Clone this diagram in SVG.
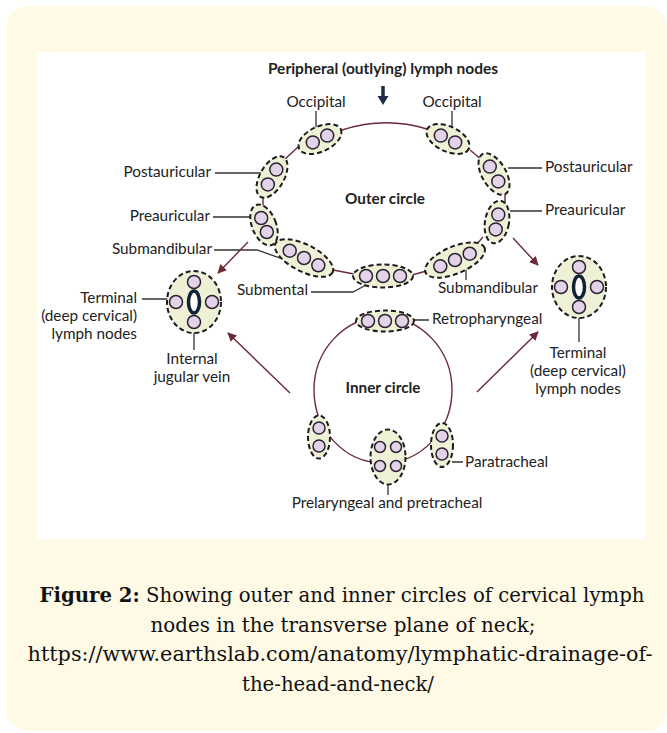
<svg xmlns="http://www.w3.org/2000/svg" width="667" height="733" viewBox="0 0 667 733">
<defs>
<style>
.bg{fill:#fffae6}
.panel{fill:#ffffff}
.oval{fill:#eef1d6;stroke:#1c1c1c;stroke-width:2;stroke-dasharray:5 3}
.nd{fill:#e2d3e8;stroke:#2a2233;stroke-width:1.5}
.vein{fill:#ffffff;stroke:#0f2338;stroke-width:3.5}
.ring{fill:none;stroke:#6b2a36;stroke-width:1.4}
.lead{fill:none;stroke:#333;stroke-width:1.3}
.arr{fill:none;stroke:#6b2a36;stroke-width:1.4;marker-end:url(#ah)}
.lbl{font-family:Lato,"Liberation Sans",sans-serif;font-size:15.3px;fill:#222}
.b{font-weight:bold}
.m{text-anchor:middle}
.e{text-anchor:end}
.cap{font-family:"DejaVu Serif","Liberation Serif",serif;font-size:20px;fill:#111;text-anchor:middle}
</style>
<marker id="ah" viewBox="0 0 10 10" refX="9" refY="5" markerWidth="9" markerHeight="9" markerUnits="userSpaceOnUse" orient="auto"><path d="M0,0 L10,5 L0,10 z" fill="#6b2a36"/></marker>
</defs>
<rect class="bg" x="6" y="6" width="661" height="725" rx="22"/>
<rect class="panel" x="37" y="52" width="609" height="487"/>

<g id="connectors">
<path class="ring" d="M342,130 Q385,116 427,129"/>
<path class="ring" d="M298,147 L284,160 M470,150 L482,160 M263,198 L263,208 M505,192 L505,205 M279,240 L285,247 M483,237 L477,244 M333,270 L354,274 M412,275 L430,270"/>
<ellipse class="ring" cx="383" cy="390" rx="69" ry="73"/>
<path class="lead" d="M316,111 V128 M452,111 V128 M215,173 H263 M213,217 H253 M214,250 H257 L320,272 M311,292 H353 L366,285 M508,168 H542 M510,211 H542 M466,268 V280 M142,299 H168 M194,329 V350 M579,318 V342 M413,320 H429 M452,462 H463 M388,485 V495"/>
<path class="arr" d="M248,242 L218,273"/>
<path class="arr" d="M513,238 L538,265"/>
<path class="arr" d="M290,393 L228,333"/>
<path class="arr" d="M477,392 L538,332"/>
<path d="M383,86 V97" stroke="#1c2e45" stroke-width="3.5" fill="none"/>
<path d="M377.5,96 L388.5,96 L383,105 z" fill="#1c2e45"/>
</g>

<g id="occipital-left"><ellipse class="oval" cx="320" cy="139" rx="23" ry="12.5" transform="rotate(-25 320 139)"/><circle class="nd" cx="312.8" cy="142.4" r="6.5"/><circle class="nd" cx="327.2" cy="135.6" r="6.5"/></g>
<g id="occipital-right"><ellipse class="oval" cx="448" cy="139" rx="23" ry="12.5" transform="rotate(25 448 139)"/><circle class="nd" cx="440.8" cy="135.6" r="6.5"/><circle class="nd" cx="455.2" cy="142.4" r="6.5"/></g>
<g id="postauricular-left"><ellipse class="oval" cx="272" cy="177" rx="12" ry="23" transform="rotate(30 272 177)"/><circle class="nd" cx="276.3" cy="169.6" r="6.5"/><circle class="nd" cx="267.8" cy="184.4" r="6.5"/></g>
<g id="postauricular-right"><ellipse class="oval" cx="494" cy="174" rx="12" ry="23" transform="rotate(-30 494 174)"/><circle class="nd" cx="489.8" cy="166.6" r="6.5"/><circle class="nd" cx="498.3" cy="181.4" r="6.5"/></g>
<g id="preauricular-left"><ellipse class="oval" cx="264" cy="225" rx="12" ry="21.5" transform="rotate(-22 264 225)"/><circle class="nd" cx="261.2" cy="218" r="6.5"/><circle class="nd" cx="266.8" cy="232" r="6.5"/></g>
<g id="preauricular-right"><ellipse class="oval" cx="497" cy="222" rx="12" ry="21.5" transform="rotate(10 497 222)"/><circle class="nd" cx="498.3" cy="214.6" r="6.5"/><circle class="nd" cx="495.7" cy="229.4" r="6.5"/></g>
<g id="submandibular-left"><ellipse class="oval" cx="304" cy="258" rx="32" ry="13.5" transform="rotate(27 304 258)"/><circle class="nd" cx="289.7" cy="250.7" r="6.5"/><circle class="nd" cx="304" cy="258" r="6.5"/><circle class="nd" cx="318.3" cy="265.3" r="6.5"/></g>
<g id="submandibular-right"><ellipse class="oval" cx="455" cy="260" rx="32" ry="13.5" transform="rotate(-23 455 260)"/><circle class="nd" cx="440.3" cy="266.3" r="6.5"/><circle class="nd" cx="455" cy="260" r="6.5"/><circle class="nd" cx="469.7" cy="253.7" r="6.5"/></g>
<g id="submental"><ellipse class="oval" cx="383" cy="276" rx="30" ry="11.5"/><circle class="nd" cx="366" cy="276" r="6.5"/><circle class="nd" cx="383" cy="276" r="6.5"/><circle class="nd" cx="400" cy="276" r="6.5"/></g>
<g id="retropharyngeal"><ellipse class="oval" cx="385" cy="321" rx="29" ry="10.5"/><circle class="nd" cx="368" cy="321" r="6.5"/><circle class="nd" cx="385" cy="321" r="6.5"/><circle class="nd" cx="402" cy="321" r="6.5"/></g>
<g id="terminal-left"><ellipse class="oval" cx="194" cy="302" rx="27" ry="31"/><circle class="nd" cx="194" cy="282" r="6.5"/><circle class="nd" cx="176" cy="302" r="6.5"/><circle class="nd" cx="212" cy="302" r="6.5"/><circle class="nd" cx="194" cy="322" r="6.5"/><ellipse class="vein" cx="194" cy="302" rx="5.5" ry="11"/></g>
<g id="terminal-right"><ellipse class="oval" cx="579" cy="287" rx="27" ry="31"/><circle class="nd" cx="579" cy="267" r="6.5"/><circle class="nd" cx="561" cy="287" r="6.5"/><circle class="nd" cx="597" cy="287" r="6.5"/><circle class="nd" cx="579" cy="307" r="6.5"/><ellipse class="vein" cx="579" cy="287" rx="5.5" ry="11"/></g>
<g id="inner-left"><ellipse class="oval" cx="319" cy="437" rx="11" ry="21.5"/><circle class="nd" cx="319" cy="428" r="6"/><circle class="nd" cx="319" cy="446" r="6"/></g>
<g id="prelaryngeal"><ellipse class="oval" cx="388" cy="457" rx="17.5" ry="27.5"/><circle class="nd" cx="380" cy="447" r="5.5"/><circle class="nd" cx="396" cy="447" r="5.5"/><circle class="nd" cx="380" cy="466" r="5.5"/><circle class="nd" cx="396" cy="466" r="5.5"/></g>
<g id="paratracheal"><ellipse class="oval" cx="442" cy="445" rx="11" ry="22"/><circle class="nd" cx="442" cy="436" r="6"/><circle class="nd" cx="442" cy="454" r="6"/></g>

<g id="labels">
<text class="lbl b m" x="383" y="74" style="font-size:15.5px">Peripheral (outlying) lymph nodes</text>
<text class="lbl m" x="316" y="107">Occipital</text>
<text class="lbl m" x="452" y="107">Occipital</text>
<text class="lbl e" x="211" y="177">Postauricular</text>
<text class="lbl e" x="210" y="221">Preauricular</text>
<text class="lbl e" x="212" y="254">Submandibular</text>
<text class="lbl b m" x="385" y="204">Outer circle</text>
<text class="lbl" x="545" y="172">Postauricular</text>
<text class="lbl" x="545" y="215">Preauricular</text>
<text class="lbl e" x="308" y="295">Submental</text>
<text class="lbl m" x="488" y="293">Submandibular</text>
<text class="lbl e" x="137" y="303">Terminal</text>
<text class="lbl e" x="137" y="321">(deep cervical)</text>
<text class="lbl e" x="137" y="339">lymph nodes</text>
<text class="lbl m" x="192" y="364">Internal</text>
<text class="lbl m" x="192" y="382">jugular vein</text>
<text class="lbl" x="432" y="324">Retropharyngeal</text>
<text class="lbl m" x="578" y="358">Terminal</text>
<text class="lbl m" x="578" y="376">(deep cervical)</text>
<text class="lbl m" x="578" y="394">lymph nodes</text>
<text class="lbl b m" x="383" y="393">Inner circle</text>
<text class="lbl" x="465" y="467">Paratracheal</text>
<text class="lbl m" x="387" y="508">Prelaryngeal and pretracheal</text>
</g>

<g id="caption">
<text class="cap" x="342" y="602" textLength="605" lengthAdjust="spacingAndGlyphs"><tspan font-weight="bold">Figure 2:</tspan> Showing outer and inner circles of cervical lymph</text>
<text class="cap" x="343" y="632" textLength="385" lengthAdjust="spacingAndGlyphs">nodes in the transverse plane of neck;</text>
<text class="cap" x="340" y="661" textLength="625" lengthAdjust="spacingAndGlyphs">https://www.earthslab.com/anatomy/lymphatic-drainage-of-</text>
<text class="cap" x="338" y="691" textLength="192" lengthAdjust="spacingAndGlyphs">the-head-and-neck/</text>
</g>
</svg>
